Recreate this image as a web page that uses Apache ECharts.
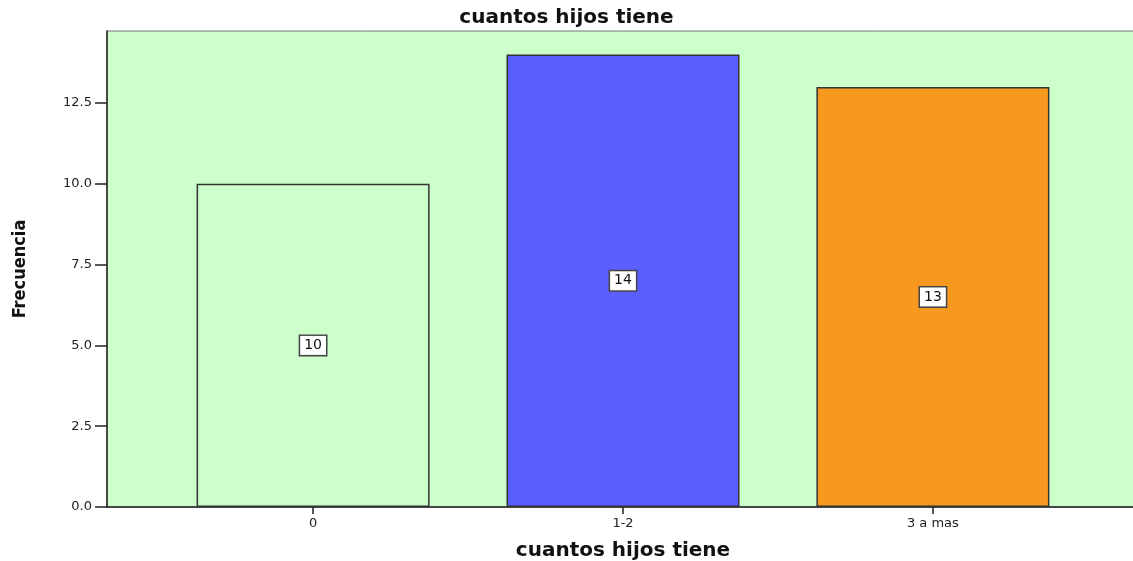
<!DOCTYPE html>
<html><head><meta charset="utf-8">
<script src="https://cdn.jsdelivr.net/npm/echarts@6/dist/echarts.min.js"></script>
<style>html,body{margin:0;padding:0;background:#fff}#c{width:1133px;height:561px}</style>
</head><body><div id="c"></div>
<script>
const categories = ['0', '1-2', '3 a mas'];
const values = [10, 14, 13];
const barColors = ['#CCFFCC', '#5B5FFF', '#F7991E'];
const yTicks = [0, 2.5, 5, 7.5, 10, 12.5];
const titleText = 'cuantos hijos tiene';
const xName = 'cuantos hijos tiene';
const yName = 'Frecuencia';

const chart = echarts.init(document.getElementById('c'), null, {renderer: 'canvas'});
const positions = categories.map((c, i) => i);
chart.setOption({
  animation: false,
  title: {text: titleText, left: 'center', top: 3,
    textStyle: {fontFamily: 'DejaVu Sans', fontWeight: 'bold', fontSize: 20, color: '#111'}},
  grid: {left: 107, top: 31, bottom: 54, width: 1032, show: true, containLabel: false, outerBoundsMode: 'none',
    backgroundColor: '#CCFFCC', borderColor: '#777', borderWidth: 1},
  xAxis: {type: 'value', min: -0.665, max: 2.665,
    name: xName, nameLocation: 'middle', nameGap: 34,
    nameTextStyle: {fontFamily: 'DejaVu Sans', fontWeight: 'bold', fontSize: 20, color: '#111'},
    axisLine: {lineStyle: {color: '#222', width: 1.5}},
    axisTick: {show: true, length: 7, customValues: positions, lineStyle: {color: '#222', width: 1.5}},
    axisLabel: {customValues: positions, margin: 10, fontFamily: 'DejaVu Sans', fontSize: 13, color: '#222',
      formatter: v => categories[Math.round(v)]},
    splitLine: {show: false}},
  yAxis: {type: 'value', min: 0, max: 14.73,
    name: yName, nameLocation: 'middle', nameGap: 78, nameRotate: 90,
    nameTextStyle: {fontFamily: 'Liberation Sans Narrow, DejaVu Sans Condensed, sans-serif', fontWeight: 'bold', fontSize: 18, color: '#111'},
    axisLine: {show: true, onZero: false, lineStyle: {color: '#222', width: 1.5}},
    axisTick: {show: true, length: 12, customValues: yTicks, lineStyle: {color: '#222', width: 1.5}},
    axisLabel: {customValues: yTicks, margin: 15, fontFamily: 'DejaVu Sans', fontSize: 13, color: '#222',
      formatter: v => v.toFixed(1)},
    splitLine: {show: false}},
  series: [{
    type: 'bar', barWidth: 233,
    data: values.map((v, i) => ({value: [positions[i], v], itemStyle: {color: barColors[i]}})),
    itemStyle: {borderColor: '#333', borderWidth: 1.5},
    label: {show: true, position: 'inside', formatter: p => p.value[1],
      backgroundColor: '#fff', borderColor: '#444', borderWidth: 1.5,
      padding: [3, 4, 2, 4], fontFamily: 'DejaVu Sans', fontSize: 14, color: '#111'}
  }]
});
</script></body></html>
